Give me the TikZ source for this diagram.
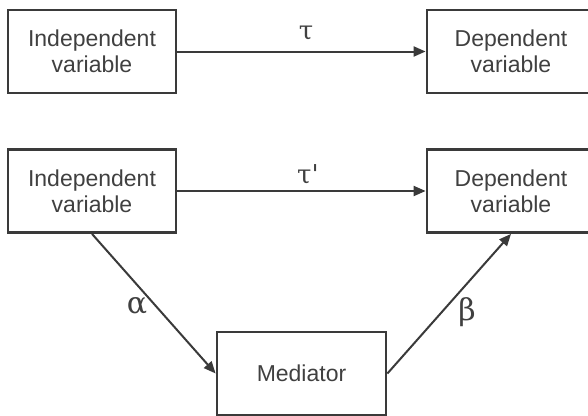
\documentclass[tikz,border=0pt]{standalone}
\usepackage{fontspec}
\setmainfont{Liberation Sans}
\newfontfamily\greekf{DejaVu Serif}
\usetikzlibrary{arrows.meta}
\definecolor{ink}{HTML}{3A3A3A}
\definecolor{txt}{HTML}{404040}
\tikzset{
  varbox/.style={draw=ink, line width=2.8pt, minimum width=168pt, minimum height=83pt,
    inner sep=0pt, align=center, text=txt, font=\fontsize{23}{26}\selectfont},
  conn/.style={draw=ink, line width=2pt, -{Triangle[length=12pt,width=10pt]}},
  coef/.style={text=txt, inner sep=0pt, font=\greekf\fontsize{26}{26}\selectfont},
  coefbig/.style={text=txt, inner sep=0pt, font=\greekf\fontsize{30}{30}\selectfont}
}
\begin{document}
\begin{tikzpicture}[x=1pt,y=-1pt]
\useasboundingbox (0,0) rectangle (588,415);
\clip (0,0) rectangle (588,415);
\node[varbox] (ind1) at (92,51.5) {Independent\\variable};
\node[varbox] (dep1) at (511,51.5) {Dependent\\variable};
\node[varbox] (ind2) at (92,191) {Independent\\variable};
\node[varbox] (dep2) at (511,191) {Dependent\\variable};
\node[varbox, minimum width=169pt] (med) at (301.5,373.5) {Mediator};
\draw[conn] (ind1.east) -- (dep1.west);
\draw[conn] (ind2.east) -- (dep2.west);
\draw[conn] (ind2.south) -- (med.west);
\draw[conn] (med.east) -- (dep2.south);
\node[coef] (tau) at (306,33.5) {τ};
\node[coef] (taup) at (308,174.5) {τ\textquotesingle};
\node[coefbig] (alpha) at (137,305.5) {α};
\node[coefbig] (beta) at (467,312) {β};
\end{tikzpicture}
\end{document}
